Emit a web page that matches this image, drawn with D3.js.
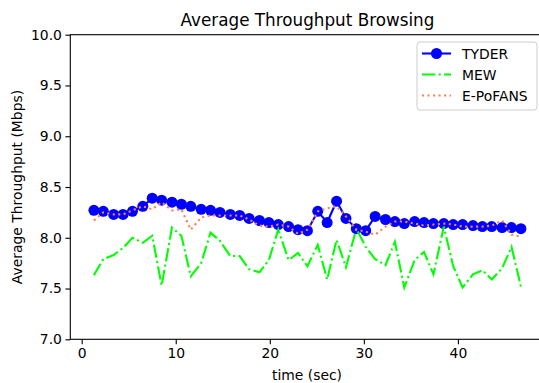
<!DOCTYPE html>
<html>
<head>
<meta charset="utf-8">
<script src="https://cdn.jsdelivr.net/npm/d3@7"></script>
<style>
  body { margin: 0; background: #fff; }
  svg { display: block; font-family: "DejaVu Sans", sans-serif; }
</style>
</head>
<body>
<div id="chart"></div>
<script>
// time stamps of the samples (sec)
var times = [1.3, 2.3, 3.4, 4.4, 5.4, 6.5, 7.5, 8.5, 9.6, 10.6,
  11.6, 12.7, 13.7, 14.7, 15.8, 16.8, 17.8, 18.9, 19.9, 20.9,
  22.0, 23.0, 24.0, 25.1, 26.1, 27.1, 28.1, 29.2, 30.2, 31.2,
  32.3, 33.3, 34.3, 35.4, 36.4, 37.4, 38.5, 39.5, 40.5, 41.6,
  42.6, 43.6, 44.7, 45.7, 46.7];

var tyder = [8.27, 8.26, 8.23, 8.23, 8.26, 8.31, 8.39, 8.37, 8.35, 8.33,
  8.31, 8.28, 8.27, 8.25, 8.23, 8.22, 8.19, 8.17, 8.15, 8.13,
  8.11, 8.08, 8.07, 8.26, 8.15, 8.36, 8.19, 8.09, 8.07, 8.21,
  8.18, 8.16, 8.14, 8.16, 8.15, 8.14, 8.14, 8.13, 8.13, 8.12,
  8.11, 8.11, 8.10, 8.10, 8.09];

var mew = [7.63, 7.79, 7.83, 7.90, 8.00, 7.95, 8.02, 7.53, 8.10, 8.02,
  7.62, 7.75, 8.05, 7.97, 7.82, 7.82, 7.69, 7.66, 7.78, 8.08,
  7.78, 7.85, 7.72, 7.93, 7.59, 7.98, 7.71, 8.09, 7.91, 7.79,
  7.73, 7.96, 7.51, 7.78, 7.86, 7.64, 8.11, 7.72, 7.51, 7.64,
  7.68, 7.59, 7.70, 7.91, 7.52];

var epofans = [8.17, 8.25, 8.23, 8.23, 8.27, 8.31, 8.28, 8.35, 8.27, 8.28,
  8.08, 8.20, 8.22, 8.22, 8.22, 8.22, 8.18, 8.12, 8.11, 8.13,
  8.11, 8.04, 8.08, 8.26, 8.29, 8.31, 8.21, 8.08, 8.06, 8.03,
  8.11, 8.16, 8.16, 8.14, 8.12, 8.13, 8.14, 8.13, 8.11, 8.11,
  8.11, 8.12, 8.17, 8.03, 8.01];

var xTicks = [0, 10, 20, 30, 40];
var yTicks = [7.0, 7.5, 8.0, 8.5, 9.0, 9.5, 10.0];

var series = [
  {name: "TYDER", values: tyder, color: "#0000ff", dash: null, marker: true},
  {name: "MEW", values: mew, color: "#00ff00", dash: "13.3,3.3,2.1,3.3", marker: false},
  {name: "E-PoFANS", values: epofans, color: "#ff7f50", dash: "2.1,3.4", marker: false}
];

var W = 539, H = 383;
var margin = {left: 70.3, top: 34.7, right: 545, bottom: 339.3};

var x = d3.scaleLinear().domain([-1.21, 49.26]).range([margin.left, margin.right]);
var y = d3.scaleLinear().domain([7, 10]).range([margin.bottom, margin.top]);

var svg = d3.select("#chart").append("svg")
  .attr("width", W)
  .attr("height", H);

//////////////////// axes ////////////////////
var xAxis = svg.append("g")
  .attr("transform", "translate(0," + margin.bottom + ")")
  .call(d3.axisBottom(x).tickValues(xTicks).tickSize(4.9).tickPadding(3.5).tickSizeOuter(0));

var yAxis = svg.append("g")
  .attr("transform", "translate(" + margin.left + ",0)")
  .call(d3.axisLeft(y).tickValues(yTicks).tickFormat(d3.format(".1f")).tickSize(4.9).tickPadding(3.5).tickSizeOuter(0));

[xAxis, yAxis].forEach(function(a) {
  a.selectAll("text").style("font-size", "13.9px").style("fill", "#000").style("font-family", "DejaVu Sans");
  a.selectAll("line").style("stroke", "#000").style("stroke-width", 1.1);
  a.select(".domain").remove();
});

// spines
svg.append("rect")
  .attr("x", margin.left)
  .attr("y", margin.top)
  .attr("width", margin.right - margin.left)
  .attr("height", margin.bottom - margin.top)
  .style("fill", "none")
  .style("stroke", "#000")
  .style("stroke-width", 1.1);

//////////////////// lines ////////////////////
var line = d3.line()
  .x(function(d, i) { return x(times[i]); })
  .y(function(d) { return y(d); });

series.forEach(function(s) {
  svg.append("path")
    .datum(s.values)
    .attr("d", line)
    .style("fill", "none")
    .style("stroke", s.color)
    .style("stroke-width", 2.1)
    .style("stroke-dasharray", s.dash)
    .style("stroke-linecap", s.dash ? "butt" : "square");

  if (s.marker) {
    svg.selectAll("circle.m").data(s.values).enter().append("circle")
      .attr("cx", function(d, i) { return x(times[i]); })
      .attr("cy", function(d) { return y(d); })
      .attr("r", 5.5)
      .style("fill", s.color);
  }
});

//////////////////// text ////////////////////
svg.append("text")
  .attr("x", 307.5)
  .attr("y", 26)
  .attr("text-anchor", "middle")
  .style("font-size", "16.8px")
  .text("Average Throughput Browsing");

svg.append("text")
  .attr("x", 307)
  .attr("y", 380)
  .attr("text-anchor", "middle")
  .style("font-size", "13.9px")
  .text("time (sec)");

svg.append("text")
  .attr("transform", "translate(22," + ((margin.top + margin.bottom) / 2) + ") rotate(-90)")
  .attr("text-anchor", "middle")
  .style("font-size", "13.9px")
  .text("Average Throughput (Mbps)");

//////////////////// legend ////////////////////
var legend = svg.append("g").attr("transform", "translate(417,42)");

legend.append("rect")
  .attr("width", 120)
  .attr("height", 68)
  .attr("rx", 3)
  .style("fill", "#fff")
  .style("fill-opacity", 0.8)
  .style("stroke", "#cccccc")
  .style("stroke-width", 1);

series.forEach(function(s, i) {
  var yy = 11.5 + i * 21;
  legend.append("line")
    .attr("x1", 5).attr("x2", 34)
    .attr("y1", yy).attr("y2", yy)
    .style("stroke", s.color)
    .style("stroke-width", 2.1)
    .style("stroke-dasharray", s.dash);
  if (s.marker) {
    legend.append("circle").attr("cx", 19.5).attr("cy", yy).attr("r", 5.5).style("fill", s.color);
  }
  legend.append("text")
    .attr("x", 45)
    .attr("y", yy + 5)
    .style("font-size", "13.9px")
    .text(s.name);
});
</script>
</body>
</html>
